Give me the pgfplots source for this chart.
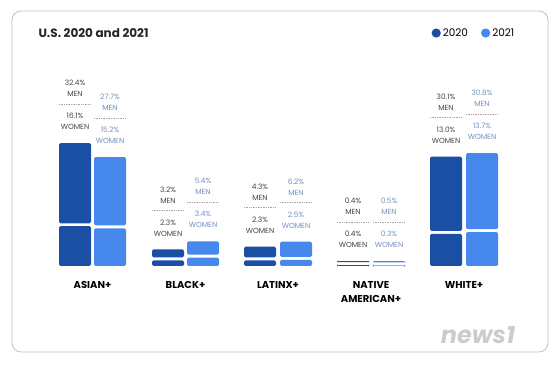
\documentclass[border=0pt]{standalone}
\usepackage{pgfplots}
\pgfplotsset{compat=1.18}
\usepackage{fontspec}
\setmainfont{Poppins}
\definecolor{c20}{HTML}{1A4FA3}
\definecolor{c21}{HTML}{4688EC}
\definecolor{t20}{HTML}{40444C}
\definecolor{t21}{HTML}{7390C0}
\newcommand\lab[5]{%
  \node[font=\fontsize{7.4}{8}\selectfont, text=#5] at (axis cs:#1,#2) [yshift=60pt] {#3\%};
  \node[font=\fontsize{7.4}{8}\selectfont, text=#5] at (axis cs:#1,#2) [yshift=49pt] {MEN};
  \draw[gray!70, line width=0.5pt, dash pattern=on 1pt off 0.7pt] ([xshift=-16pt,yshift=39pt]axis cs:#1,#2) -- ([xshift=16pt,yshift=39pt]axis cs:#1,#2);
  \node[font=\fontsize{7.4}{8}\selectfont, text=#5] at (axis cs:#1,#2) [yshift=27pt] {#4\%};
  \node[font=\fontsize{7.4}{8}\selectfont, text=#5] at (axis cs:#1,#2) [yshift=16pt] {WOMEN};
}
\begin{document}
\begin{tikzpicture}[x=1pt,y=1pt]
\path[use as bounding box] (0,0) rectangle (560,367);
\draw[gray!50, line width=0.8pt, rounded corners=9pt] (12,15) rectangle (548,356);
\node[anchor=west, font=\bfseries\fontsize{12}{14}\selectfont, text=black!85] at (35,334) {U.S. 2020 and 2021};
\node[font=\bfseries\itshape\fontsize{24}{26}\selectfont, text=gray!40] at (478,32) {news1};
\begin{axis}[
  at={(0,0)}, anchor=south west,
  scale only axis, width=560pt, height=367pt,
  xmin=0, xmax=560, ymin=-40.89, ymax=107.69,
  hide axis, clip=false,
  ybar stacked, bar width=32pt,
  legend style={at={(0.765,0.91)}, anchor=west, draw=none, fill=none,
    legend columns=2, font=\fontsize{10.5}{12}\selectfont,
    /tikz/every even column/.append style={column sep=11pt}},
]
\addplot[fill=c20, draw=none, rounded corners=1.5pt,
  legend image code/.code={\fill[c20] (-6pt,0) circle (4.6pt);}]
  coordinates {(75,16.1)(110,0)(168,2.3)(203,0)(260,2.3)(296,0)(353,0.4)(389,0)(446,13.0)(482,0)};
\addlegendentry{2020}
\addplot[fill=c21, draw=none, rounded corners=1.5pt,
  legend image code/.code={\fill[c21] (-6pt,0) circle (4.6pt);}]
  coordinates {(75,0)(110,15.2)(168,0)(203,3.4)(260,0)(296,2.5)(353,0)(389,0.3)(446,0)(482,13.7)};
\addlegendentry{2021}
\addplot[fill=none, draw=none]
  coordinates {(75,1.2)(110,1.2)(168,1.2)(203,1.2)(260,1.2)(296,1.2)(353,1.2)(389,1.2)(446,1.2)(482,1.2)};
\addplot[fill=c20, draw=none, rounded corners=1.5pt]
  coordinates {(75,32.4)(110,0)(168,3.2)(203,0)(260,4.3)(296,0)(353,0.4)(389,0)(446,30.1)(482,0)};
\addplot[fill=c21, draw=none, rounded corners=1.5pt]
  coordinates {(75,0)(110,27.7)(168,0)(203,5.4)(260,0)(296,6.2)(353,0)(389,0.5)(446,0)(482,30.8)};
\lab{75}{49.7}{32.4}{16.1}{t20}
\lab{110}{44.1}{27.7}{15.2}{t21}
\lab{168}{6.7}{3.2}{2.3}{t20}
\lab{203}{10.0}{5.4}{3.4}{t21}
\lab{260}{7.8}{4.3}{2.3}{t20}
\lab{296}{9.9}{6.2}{2.5}{t21}
\lab{353}{2.0}{0.4}{0.4}{t20}
\lab{389}{2.0}{0.5}{0.3}{t21}
\lab{446}{44.3}{30.1}{13.0}{t20}
\lab{482}{45.7}{30.8}{13.7}{t21}
\node[font=\bfseries\fontsize{10}{12}\selectfont] at (axis cs:92.5,0) [yshift=-19pt] {ASIAN+};
\node[font=\bfseries\fontsize{10}{12}\selectfont] at (axis cs:185.5,0) [yshift=-19pt] {BLACK+};
\node[font=\bfseries\fontsize{10}{12}\selectfont] at (axis cs:278,0) [yshift=-19pt] {LATINX+};
\node[font=\bfseries\fontsize{10}{14}\selectfont, align=center] at (axis cs:371,0) [yshift=-26pt] {NATIVE\\AMERICAN+};
\node[font=\bfseries\fontsize{10}{12}\selectfont] at (axis cs:464,0) [yshift=-19pt] {WHITE+};
\end{axis}
\end{tikzpicture}
\end{document}
